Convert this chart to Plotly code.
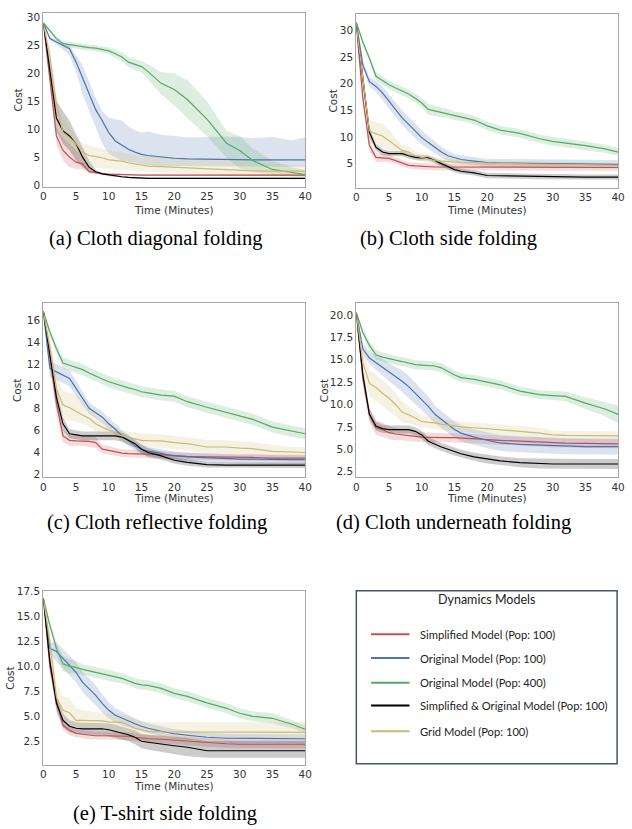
import plotly.graph_objects as go

W, H = 632, 829

T = [0, 1, 2, 3, 4, 5, 6, 7, 8, 9, 10, 11, 12, 13, 14, 15, 16, 18, 20, 22, 25, 28, 30, 32, 35, 38, 40]

NAMES = ["Simplified Model (Pop: 100)", "Original Model (Pop: 100)", "Original Model (Pop: 400)",
         "Simplified & Original Model (Pop: 100)", "Grid Model (Pop: 100)"]
COLORS = ["#C44E52", "#4C72B0", "#55A868", "#000000", "#CCB974"]
CAPTIONS = ["(a) Cloth diagonal folding", "(b) Cloth side folding", "(c) Cloth reflective folding",
            "(d) Cloth underneath folding", "(e) T-shirt side folding"]
X_TICKS = [0, 5, 10, 15, 20, 25, 30, 35, 40]

# ---------------- (a) Cloth diagonal folding ----------------
A_RED = [29, 19, 8.8, 6.2, 5.0, 4.1, 3.8, 2.4, 2.2, 2.05, 1.95, 1.9, 1.85, 1.8, 1.8, 1.8, 1.8, 1.8, 1.8, 1.8, 1.8, 1.8, 1.8, 1.8, 1.8, 1.8, 1.8]
A_RED_LO = [28.8, 17.5, 7.3, 4.4, 3.2, 2.9, 2.8, 2.1, 2.0, 1.9, 1.8, 1.75, 1.7, 1.65, 1.65, 1.65, 1.65, 1.65, 1.65, 1.65, 1.65, 1.65, 1.65, 1.65, 1.65, 1.65, 1.65]
A_RED_HI = [29.2, 20.5, 10.3, 8.5, 7.4, 6.2, 5.3, 2.8, 2.4, 2.2, 2.1, 2.05, 2.0, 1.95, 1.95, 1.95, 1.95, 1.95, 1.95, 1.95, 1.95, 1.95, 1.95, 1.95, 1.95, 1.95, 1.95]
A_BLUE = [29, 26.2, 25.6, 25.0, 24.4, 22.0, 19.1, 16.2, 13.5, 11.5, 9.4, 7.9, 7.1, 6.4, 5.9, 5.5, 5.3, 5.0, 4.8, 4.7, 4.6, 4.55, 4.5, 4.5, 4.5, 4.5, 4.5]
A_BLUE_LO = [28.8, 25.8, 25.2, 24.2, 23.2, 20.3, 16.2, 13.2, 10.3, 7.4, 5.6, 5.0, 4.4, 4.1, 3.9, 3.8, 3.6, 3.4, 3.3, 3.3, 3.3, 3.3, 3.3, 3.3, 3.3, 3.3, 3.3]
A_BLUE_HI = [29.2, 26.6, 26.0, 25.5, 25.0, 23.2, 21.5, 18.5, 15.6, 13.2, 12.1, 11.8, 11.5, 10.5, 9.8, 9.4, 9.6, 9.0, 8.8, 8.5, 8.6, 8.7, 8.6, 8.4, 8.6, 8.0, 8.6]
A_GREEN = [29, 27.5, 26.2, 25.3, 25.1, 24.9, 24.7, 24.6, 24.5, 24.3, 24.0, 23.5, 22.9, 22.0, 21.6, 21.2, 20.3, 18.2, 17.1, 15.3, 11.8, 7.5, 6.2, 4.4, 2.8, 2.2, 1.9]
A_GREEN_LO = [28.8, 27.2, 25.8, 24.8, 24.6, 24.4, 24.2, 24.1, 24.0, 23.8, 23.4, 22.8, 22.1, 21.1, 20.6, 20.2, 19.0, 16.2, 14.3, 12.0, 8.8, 4.9, 3.0, 2.4, 1.8, 1.6, 1.5]
A_GREEN_HI = [29.2, 27.8, 26.6, 25.8, 25.6, 25.4, 25.2, 25.1, 25.0, 24.8, 24.6, 24.2, 23.7, 22.9, 22.6, 22.2, 21.6, 20.2, 20.0, 18.8, 15.0, 9.7, 8.8, 6.5, 4.4, 3.2, 2.6]
A_BLACK = [29, 20.3, 12.0, 9.7, 8.8, 7.4, 5.0, 3.2, 2.4, 2.0, 1.8, 1.65, 1.5, 1.4, 1.3, 1.2, 1.2, 1.2, 1.2, 1.2, 1.2, 1.2, 1.2, 1.2, 1.2, 1.2, 1.2]
A_BLACK_LO = [28.8, 18.5, 9.7, 7.4, 6.2, 4.4, 3.2, 2.4, 2.1, 1.8, 1.6, 1.5, 1.35, 1.25, 1.15, 1.05, 1.05, 1.05, 1.05, 1.05, 1.05, 1.05, 1.05, 1.05, 1.05, 1.05, 1.05]
A_BLACK_HI = [29.2, 22.5, 15.0, 13.2, 11.5, 9.1, 6.8, 4.4, 2.7, 2.2, 2.0, 1.8, 1.65, 1.55, 1.45, 1.35, 1.35, 1.35, 1.35, 1.35, 1.35, 1.35, 1.35, 1.35, 1.35, 1.35, 1.35]
A_GRID = [29, 23, 14.4, 9.4, 8.5, 7.4, 5.9, 5.3, 5.1, 4.9, 4.5, 4.4, 4.3, 4.0, 3.8, 3.5, 3.4, 3.3, 3.2, 3.1, 2.9, 2.7, 2.6, 2.55, 2.5, 2.5, 2.5]
A_GRID_LO = [28.8, 21.5, 12.5, 7.4, 6.2, 5.0, 3.8, 3.2, 3.0, 2.9, 2.9, 2.8, 2.7, 2.6, 2.5, 2.4, 2.3, 2.2, 2.1, 2.0, 1.9, 1.8, 1.7, 1.6, 1.6, 1.5, 1.5]
A_GRID_HI = [29.2, 24.5, 16.5, 11.8, 10.5, 8.5, 7.6, 7.1, 6.8, 6.5, 6.2, 6.0, 5.9, 5.6, 5.4, 5.3, 5.2, 5.1, 5.0, 4.8, 4.6, 4.4, 4.2, 4.0, 3.8, 3.6, 3.5]

# ---------------- (b) Cloth side folding ----------------
B_RED = [31, 17.3, 8.4, 6.2, 6.1, 6.0, 5.6, 5.1, 4.7, 4.6, 4.5, 4.45, 4.4, 4.4, 4.4, 4.4, 4.35, 4.35, 4.3, 4.3, 4.3, 4.3, 4.3, 4.3, 4.3, 4.3, 4.3]
B_RED_LO = [30.8, 15.8, 7.4, 5.4, 5.3, 5.3, 5.0, 4.5, 4.1, 4.0, 3.9, 3.85, 3.8, 3.8, 3.8, 3.8, 3.75, 3.75, 3.7, 3.7, 3.7, 3.7, 3.7, 3.7, 3.7, 3.7, 3.7]
B_RED_HI = [31.2, 18.8, 9.4, 7.0, 6.9, 6.7, 6.2, 5.7, 5.3, 5.2, 5.1, 5.05, 5.0, 5.0, 5.0, 5.0, 4.95, 4.95, 4.9, 4.9, 4.9, 4.9, 4.9, 4.9, 4.9, 4.9, 4.9]
B_BLUE = [31.5, 23.5, 20.4, 19.5, 18.3, 16.7, 15.2, 13.6, 12.4, 11.2, 9.9, 9.0, 8.1, 7.2, 6.5, 6.1, 5.8, 5.5, 5.2, 5.15, 5.1, 5.05, 5.0, 5.0, 4.95, 4.9, 4.9]
B_BLUE_LO = [31.3, 22.8, 19.5, 18.5, 17.1, 15.4, 13.8, 12.2, 11.0, 9.8, 8.6, 7.8, 7.0, 6.2, 5.6, 5.3, 5.0, 4.8, 4.5, 4.4, 4.35, 4.3, 4.25, 4.2, 4.2, 4.1, 4.1]
B_BLUE_HI = [31.7, 24.2, 21.3, 20.5, 19.5, 18.0, 16.6, 15.0, 13.8, 12.6, 11.2, 10.2, 9.2, 8.2, 7.4, 6.9, 6.6, 6.2, 5.9, 5.9, 5.85, 5.8, 5.75, 5.8, 5.7, 5.7, 5.7]
B_GREEN = [31.5, 27.8, 24.8, 21.4, 20.6, 19.8, 19.2, 18.6, 18.1, 17.3, 16.4, 15.2, 14.9, 14.6, 14.4, 14.0, 13.8, 13.2, 12.1, 11.3, 10.7, 9.7, 9.2, 8.9, 8.4, 7.8, 7.2]
B_GREEN_LO = [31.3, 27.3, 24.1, 20.6, 19.8, 19.0, 18.4, 17.8, 17.3, 16.5, 15.5, 14.2, 13.9, 13.7, 13.6, 13.2, 13.0, 12.4, 11.3, 10.5, 9.9, 8.9, 8.4, 8.1, 7.6, 7.0, 6.5]
B_GREEN_HI = [31.7, 28.3, 25.5, 22.2, 21.4, 20.6, 20.0, 19.4, 18.9, 18.1, 17.3, 16.2, 15.9, 15.5, 15.2, 14.8, 14.6, 14.0, 12.9, 12.1, 11.5, 10.5, 10.0, 9.7, 9.2, 8.6, 7.9]
B_BLACK = [31, 21, 10.9, 8.1, 7.2, 6.9, 6.9, 6.9, 6.5, 6.2, 6.1, 6.1, 5.6, 5.0, 4.4, 3.9, 3.6, 3.3, 2.8, 2.75, 2.7, 2.6, 2.5, 2.5, 2.5, 2.5, 2.5]
B_BLACK_LO = [30.8, 19.5, 9.9, 7.5, 6.6, 6.4, 6.4, 6.4, 6.0, 5.7, 5.6, 5.6, 5.1, 4.5, 3.9, 3.4, 3.1, 2.8, 2.3, 2.25, 2.2, 2.1, 2.0, 2.0, 2.0, 2.0, 2.0]
B_BLACK_HI = [31.2, 22.5, 11.9, 8.7, 7.8, 7.4, 7.4, 7.4, 7.0, 6.7, 6.6, 6.6, 6.1, 5.5, 4.9, 4.4, 4.1, 3.8, 3.3, 3.25, 3.2, 3.1, 3.0, 3.0, 3.0, 3.0, 3.0]
B_GRID = [31, 21, 11.2, 10.6, 10.2, 9.3, 8.4, 7.5, 7.2, 6.5, 6.2, 5.9, 5.6, 5.5, 5.4, 5.3, 5.25, 5.2, 5.1, 5.05, 5.0, 4.95, 4.9, 4.85, 4.8, 4.75, 4.7]
B_GRID_LO = [30.8, 19.5, 9.0, 8.4, 8.1, 7.6, 7.0, 6.4, 6.2, 5.7, 5.4, 5.2, 5.0, 4.9, 4.8, 4.8, 4.75, 4.7, 4.6, 4.55, 4.5, 4.45, 4.4, 4.35, 4.3, 4.25, 4.2]
B_GRID_HI = [31.2, 22.5, 13.2, 12.8, 12.5, 11.3, 9.8, 8.6, 8.2, 7.3, 7.0, 6.6, 6.2, 6.1, 6.0, 5.8, 5.75, 5.7, 5.6, 5.55, 5.5, 5.45, 5.4, 5.35, 5.3, 5.25, 5.2]

# ---------------- (c) Cloth reflective folding ----------------
C_RED = [16.75, 12.5, 8.5, 5.5, 5.1, 5.05, 5.05, 5.0, 4.9, 4.3, 4.2, 4.05, 3.95, 3.9, 3.9, 3.9, 3.85, 3.8, 3.7, 3.65, 3.6, 3.6, 3.6, 3.55, 3.5, 3.5, 3.5]
C_RED_LO = [16.65, 11.5, 7.5, 4.9, 4.6, 4.6, 4.6, 4.5, 4.4, 3.9, 3.8, 3.7, 3.6, 3.55, 3.55, 3.55, 3.5, 3.45, 3.4, 3.35, 3.3, 3.3, 3.3, 3.25, 3.2, 3.2, 3.2]
C_RED_HI = [16.85, 13.5, 9.5, 6.1, 5.6, 5.5, 5.5, 5.5, 5.4, 4.7, 4.6, 4.4, 4.3, 4.25, 4.25, 4.25, 4.2, 4.15, 4.0, 3.95, 3.9, 3.9, 3.9, 3.85, 3.8, 3.8, 3.8]
C_BLUE = [16.75, 11.6, 11.3, 11.0, 10.7, 9.8, 8.9, 8.0, 7.6, 7.2, 6.6, 6.1, 5.5, 5.1, 4.6, 4.3, 4.1, 3.9, 3.7, 3.6, 3.5, 3.45, 3.4, 3.4, 3.35, 3.35, 3.35]
C_BLUE_LO = [16.65, 10.8, 10.6, 10.3, 10.0, 9.1, 8.3, 7.5, 7.1, 6.7, 6.1, 5.6, 5.0, 4.6, 4.2, 3.9, 3.7, 3.5, 3.3, 3.2, 3.1, 3.05, 3.0, 3.0, 2.95, 2.95, 2.95]
C_BLUE_HI = [16.85, 12.4, 12.0, 11.7, 11.4, 10.5, 9.5, 8.5, 8.1, 7.7, 7.1, 6.6, 6.0, 5.6, 5.0, 4.7, 4.5, 4.3, 4.1, 4.0, 3.9, 3.85, 3.8, 3.8, 3.75, 3.75, 3.75]
C_GREEN = [16.75, 14.9, 13.4, 12.1, 11.9, 11.7, 11.5, 11.2, 10.9, 10.65, 10.4, 10.2, 10.0, 9.85, 9.7, 9.5, 9.4, 9.2, 9.1, 8.6, 8.1, 7.6, 7.3, 7.0, 6.3, 5.9, 5.7]
C_GREEN_LO = [16.65, 14.6, 13.0, 11.6, 11.4, 11.2, 11.0, 10.7, 10.4, 10.15, 9.9, 9.7, 9.5, 9.35, 9.2, 9.0, 8.9, 8.7, 8.6, 8.1, 7.6, 7.1, 6.8, 6.5, 5.8, 5.4, 5.2]
C_GREEN_HI = [16.85, 15.2, 13.8, 12.6, 12.4, 12.2, 12.0, 11.7, 11.4, 11.15, 10.9, 10.7, 10.5, 10.35, 10.2, 10.0, 9.9, 9.7, 9.6, 9.1, 8.6, 8.1, 7.8, 7.5, 6.8, 6.4, 6.2]
C_BLACK = [16.75, 13.0, 9.0, 6.6, 5.7, 5.6, 5.5, 5.5, 5.5, 5.5, 5.5, 5.5, 5.4, 5.1, 4.8, 4.3, 4.0, 3.7, 3.3, 3.1, 2.9, 2.85, 2.85, 2.85, 2.85, 2.85, 2.85]
C_BLACK_LO = [16.65, 12.0, 8.0, 6.0, 5.3, 5.2, 5.1, 5.1, 5.1, 5.1, 5.1, 5.1, 5.0, 4.7, 4.4, 3.9, 3.6, 3.35, 3.0, 2.8, 2.65, 2.6, 2.6, 2.6, 2.6, 2.6, 2.6]
C_BLACK_HI = [16.85, 14.0, 10.0, 7.2, 6.1, 6.0, 5.9, 5.9, 5.9, 5.9, 5.9, 5.9, 5.8, 5.5, 5.2, 4.7, 4.4, 4.05, 3.6, 3.4, 3.15, 3.1, 3.1, 3.1, 3.1, 3.1, 3.1]
C_GRID = [16.75, 13.5, 9.8, 8.3, 8.05, 7.7, 7.4, 7.1, 6.6, 6.3, 6.0, 5.75, 5.5, 5.35, 5.2, 5.1, 5.07, 5.05, 4.9, 4.8, 4.5, 4.5, 4.4, 4.35, 4.1, 4.0, 4.0]
C_GRID_LO = [16.65, 12.5, 8.3, 6.9, 6.9, 6.8, 6.6, 6.3, 5.9, 5.7, 5.4, 5.2, 5.0, 4.8, 4.6, 4.5, 4.45, 4.4, 4.3, 4.2, 3.9, 3.9, 3.8, 3.75, 3.6, 3.6, 3.6]
C_GRID_HI = [16.85, 14.5, 11.0, 9.5, 9.4, 9.3, 8.5, 7.9, 7.3, 6.9, 6.6, 6.3, 6.0, 5.9, 5.8, 5.7, 5.7, 5.65, 5.5, 5.4, 5.1, 5.1, 5.0, 4.95, 4.7, 4.5, 4.5]

# ---------------- (d) Cloth underneath folding ----------------
D_RED = [20.25, 12.9, 8.9, 7.4, 7.2, 6.85, 6.7, 6.6, 6.5, 6.4, 6.35, 6.33, 6.3, 6.3, 6.3, 6.3, 6.25, 6.2, 6.1, 6.0, 5.9, 5.8, 5.7, 5.68, 5.65, 5.6, 5.6]
D_RED_LO = [20.15, 12.0, 8.0, 6.6, 6.4, 6.1, 6.0, 6.0, 5.9, 5.85, 5.8, 5.8, 5.8, 5.8, 5.8, 5.8, 5.75, 5.7, 5.6, 5.5, 5.4, 5.3, 5.2, 5.2, 5.15, 5.1, 5.1]
D_RED_HI = [20.35, 13.8, 9.8, 8.2, 8.0, 7.6, 7.4, 7.2, 7.1, 6.95, 6.9, 6.85, 6.8, 6.8, 6.8, 6.8, 6.75, 6.7, 6.6, 6.5, 6.4, 6.3, 6.2, 6.15, 6.15, 6.1, 6.1]
D_BLUE = [20.25, 16.2, 15.2, 14.7, 14.2, 13.6, 13.1, 12.6, 12.0, 11.25, 10.5, 9.8, 8.9, 8.3, 7.75, 7.2, 6.8, 6.35, 6.0, 5.7, 5.55, 5.45, 5.4, 5.35, 5.3, 5.3, 5.3]
D_BLUE_LO = [20.15, 15.6, 14.5, 13.9, 13.3, 12.6, 12.0, 11.4, 10.8, 10.1, 9.4, 8.7, 7.9, 7.3, 6.8, 6.3, 5.9, 5.5, 5.1, 4.8, 4.65, 4.55, 4.5, 4.45, 4.4, 4.4, 4.4]
D_BLUE_HI = [20.35, 16.8, 15.9, 15.5, 15.1, 14.6, 14.2, 13.8, 13.2, 12.4, 11.6, 10.9, 9.9, 9.3, 8.7, 8.1, 7.7, 7.2, 6.9, 6.6, 6.45, 6.35, 6.3, 6.25, 6.2, 6.2, 6.2]
D_GREEN = [20.25, 18.05, 16.6, 15.55, 15.3, 15.1, 14.95, 14.8, 14.6, 14.45, 14.4, 14.35, 14.3, 14.1, 13.7, 13.3, 13.0, 12.8, 12.5, 12.2, 11.5, 11.1, 11.0, 10.9, 10.15, 9.5, 8.9]
D_GREEN_LO = [20.15, 17.7, 16.1, 15.0, 14.8, 14.6, 14.45, 14.3, 14.1, 13.95, 13.9, 13.85, 13.8, 13.6, 13.2, 12.8, 12.5, 12.3, 12.0, 11.7, 11.0, 10.6, 10.5, 10.35, 9.5, 8.7, 7.9]
D_GREEN_HI = [20.35, 18.4, 17.1, 16.1, 15.8, 15.6, 15.45, 15.3, 15.1, 14.95, 14.9, 14.85, 14.8, 14.6, 14.2, 13.8, 13.5, 13.3, 13.0, 12.7, 12.0, 11.6, 11.5, 11.45, 10.8, 10.3, 9.9]
D_BLACK = [20.25, 13.3, 8.9, 7.6, 7.3, 7.2, 7.2, 7.2, 7.2, 7.0, 6.6, 5.9, 5.55, 5.25, 5.0, 4.75, 4.5, 4.15, 3.9, 3.7, 3.5, 3.4, 3.35, 3.35, 3.35, 3.35, 3.35]
D_BLACK_LO = [20.15, 12.5, 8.3, 7.1, 6.85, 6.75, 6.75, 6.75, 6.75, 6.55, 6.15, 5.45, 5.1, 4.8, 4.55, 4.3, 4.05, 3.7, 3.4, 3.2, 3.0, 2.85, 2.8, 2.8, 2.8, 2.8, 2.8]
D_BLACK_HI = [20.35, 14.1, 9.5, 8.1, 7.75, 7.65, 7.65, 7.65, 7.65, 7.45, 7.05, 6.35, 6.0, 5.7, 5.45, 5.2, 4.95, 4.6, 4.4, 4.2, 4.0, 3.95, 3.9, 3.9, 3.9, 3.9, 3.9]
D_GRID = [20.25, 14.7, 12.35, 11.9, 11.25, 10.7, 10.0, 9.15, 8.85, 8.5, 8.1, 8.0, 7.95, 7.8, 7.7, 7.6, 7.5, 7.4, 7.3, 7.2, 7.0, 6.8, 6.6, 6.55, 6.5, 6.5, 6.5]
D_GRID_LO = [20.15, 13.5, 10.9, 10.4, 9.8, 9.3, 8.7, 8.0, 7.9, 7.7, 7.4, 7.35, 7.3, 7.2, 7.1, 7.0, 6.9, 6.8, 6.7, 6.6, 6.4, 6.2, 6.1, 6.05, 6.0, 6.0, 6.0]
D_GRID_HI = [20.35, 15.9, 13.8, 13.4, 12.7, 12.1, 11.3, 10.3, 9.8, 9.3, 8.8, 8.65, 8.6, 8.4, 8.3, 8.2, 8.1, 8.0, 7.9, 7.8, 7.6, 7.4, 7.1, 7.05, 7.0, 7.0, 7.0]

# ---------------- (e) T-shirt side folding ----------------
E_RED = [16.8, 10.0, 6.6, 4.1, 3.6, 3.3, 3.2, 3.1, 3.05, 3.05, 3.05, 3.05, 3.05, 3.0, 2.9, 2.8, 2.75, 2.7, 2.6, 2.5, 2.35, 2.25, 2.2, 2.2, 2.2, 2.2, 2.2]
E_RED_LO = [16.7, 9.2, 5.8, 3.6, 3.1, 2.9, 2.8, 2.7, 2.65, 2.65, 2.65, 2.65, 2.65, 2.6, 2.5, 2.4, 2.35, 2.3, 2.2, 2.1, 1.95, 1.85, 1.8, 1.8, 1.8, 1.8, 1.8]
E_RED_HI = [16.9, 10.8, 7.4, 4.6, 4.1, 3.7, 3.6, 3.5, 3.45, 3.45, 3.45, 3.45, 3.45, 3.4, 3.3, 3.2, 3.15, 3.1, 3.0, 2.9, 2.75, 2.65, 2.6, 2.6, 2.6, 2.6, 2.6]
E_BLUE = [16.8, 11.8, 11.5, 10.85, 10.1, 9.4, 8.4, 7.75, 7.1, 6.3, 5.6, 5.1, 4.8, 4.5, 4.25, 4.0, 3.8, 3.5, 3.25, 3.1, 2.9, 2.8, 2.8, 2.78, 2.75, 2.75, 2.75]
E_BLUE_LO = [16.7, 11.2, 10.6, 9.9, 9.1, 8.4, 7.4, 6.7, 6.1, 5.4, 4.8, 4.4, 4.1, 3.9, 3.7, 3.5, 3.3, 3.0, 2.8, 2.65, 2.45, 2.35, 2.35, 2.35, 2.35, 2.35, 2.35]
E_BLUE_HI = [16.9, 12.4, 12.4, 11.8, 11.1, 10.4, 9.4, 8.8, 8.1, 7.2, 6.4, 5.8, 5.5, 5.1, 4.8, 4.5, 4.3, 4.0, 3.7, 3.55, 3.35, 3.25, 3.25, 3.2, 3.2, 3.2, 3.2]
E_GREEN = [16.8, 14.1, 11.8, 10.25, 10.0, 9.9, 9.7, 9.55, 9.4, 9.2, 9.05, 8.9, 8.8, 8.55, 8.3, 8.15, 8.1, 7.8, 7.3, 7.0, 6.35, 5.8, 5.3, 5.0, 4.8, 4.2, 3.7]
E_GREEN_LO = [16.7, 13.7, 11.2, 9.5, 9.3, 9.3, 9.2, 9.05, 8.9, 8.7, 8.55, 8.4, 8.3, 8.05, 7.8, 7.65, 7.6, 7.3, 6.8, 6.5, 5.85, 5.3, 4.8, 4.5, 4.3, 3.8, 3.3]
E_GREEN_HI = [16.9, 14.5, 12.4, 11.0, 10.7, 10.5, 10.2, 10.05, 9.9, 9.7, 9.55, 9.4, 9.3, 9.05, 8.8, 8.65, 8.6, 8.3, 7.8, 7.5, 6.85, 6.3, 5.8, 5.5, 5.3, 4.6, 4.1]
E_BLACK = [16.8, 10.5, 6.3, 4.6, 4.0, 3.8, 3.75, 3.75, 3.75, 3.75, 3.65, 3.5, 3.3, 3.15, 2.9, 2.5, 2.4, 2.2, 2.05, 1.9, 1.55, 1.55, 1.55, 1.55, 1.55, 1.55, 1.55]
E_BLACK_LO = [16.7, 9.7, 5.5, 3.9, 3.4, 3.2, 3.15, 3.15, 3.15, 3.15, 3.0, 2.85, 2.65, 2.5, 2.2, 1.8, 1.65, 1.4, 1.2, 1.0, 0.85, 0.85, 0.85, 0.85, 0.85, 0.85, 0.85]
E_BLACK_HI = [16.9, 11.3, 7.1, 5.3, 4.6, 4.4, 4.35, 4.35, 4.35, 4.35, 4.3, 4.15, 3.95, 3.8, 3.6, 3.2, 3.15, 3.0, 2.9, 2.8, 2.5, 2.5, 2.5, 2.5, 2.5, 2.5, 2.5]
E_GRID = [16.8, 12.5, 6.9, 5.6, 5.35, 4.6, 4.6, 4.6, 4.6, 4.55, 4.45, 4.42, 4.4, 4.1, 3.8, 3.65, 3.5, 3.45, 3.45, 3.45, 3.45, 3.42, 3.4, 3.4, 3.4, 3.4, 3.4]
E_GRID_LO = [16.7, 11.5, 5.5, 4.5, 4.3, 3.7, 3.7, 3.7, 3.7, 3.65, 3.55, 3.5, 3.45, 3.15, 2.9, 2.75, 2.6, 2.55, 2.55, 2.55, 2.55, 2.55, 2.55, 2.55, 2.55, 2.55, 2.55]
E_GRID_HI = [16.9, 13.5, 8.3, 7.0, 6.8, 5.8, 5.6, 5.5, 5.4, 5.35, 5.25, 5.2, 5.2, 5.0, 4.7, 4.5, 4.4, 4.4, 4.4, 4.4, 4.4, 4.4, 4.4, 4.4, 4.4, 4.4, 4.4]

PANEL_DATA = [
    [(A_RED, A_RED_LO, A_RED_HI), (A_BLUE, A_BLUE_LO, A_BLUE_HI), (A_GREEN, A_GREEN_LO, A_GREEN_HI),
     (A_BLACK, A_BLACK_LO, A_BLACK_HI), (A_GRID, A_GRID_LO, A_GRID_HI)],
    [(B_RED, B_RED_LO, B_RED_HI), (B_BLUE, B_BLUE_LO, B_BLUE_HI), (B_GREEN, B_GREEN_LO, B_GREEN_HI),
     (B_BLACK, B_BLACK_LO, B_BLACK_HI), (B_GRID, B_GRID_LO, B_GRID_HI)],
    [(C_RED, C_RED_LO, C_RED_HI), (C_BLUE, C_BLUE_LO, C_BLUE_HI), (C_GREEN, C_GREEN_LO, C_GREEN_HI),
     (C_BLACK, C_BLACK_LO, C_BLACK_HI), (C_GRID, C_GRID_LO, C_GRID_HI)],
    [(D_RED, D_RED_LO, D_RED_HI), (D_BLUE, D_BLUE_LO, D_BLUE_HI), (D_GREEN, D_GREEN_LO, D_GREEN_HI),
     (D_BLACK, D_BLACK_LO, D_BLACK_HI), (D_GRID, D_GRID_LO, D_GRID_HI)],
    [(E_RED, E_RED_LO, E_RED_HI), (E_BLUE, E_BLUE_LO, E_BLUE_HI), (E_GREEN, E_GREEN_LO, E_GREEN_HI),
     (E_BLACK, E_BLACK_LO, E_BLACK_HI), (E_GRID, E_GRID_LO, E_GRID_HI)],
]

# layout geometry (pixels) -----------------------------------------------
PANEL_BOX = [(41, 307, 7, 183), (359, 625, 8, 184), (41, 307, 301, 477), (359, 625, 301, 477), (41, 307, 592, 768)]
Y_RANGES = [(-0.3, 30.8), (0.5, 33.1), (1.76, 17.5), (1.87, 21.3), (0.15, 17.56)]
Y_TICK0 = [0, 5, 2, 2.5, 2.5]
Y_DTICK = [5, 5, 2, 2.5, 2.5]
Y_FMT = ["d", "d", "d", ".1f", ".1f"]
COST_X = [15, 335, 15, 326, 7]
TIME_Y = [206, 206, 498, 498, 790]
CAPTION_POS = [(155, 235), (453, 235), (156, 523), (458, 523), (165, 817)]
LEGEND_BOX = (359, 624, 592, 767)
LEGEND_ROWS = [636, 660, 685, 708, 734]


def px(x):
    return x / W


def py(y):
    return 1 - y / H


def rgba(hex_color, a):
    h = hex_color.lstrip("#")
    r, g, b = int(h[0:2], 16), int(h[2:4], 16), int(h[4:6], 16)
    return f"rgba({r},{g},{b},{a})"


fig = go.Figure()
TICK_FONT = dict(family="DejaVu Sans", size=10.5, color="#333333")
LABEL_FONT = dict(family="DejaVu Sans", size=10.5, color="#333333")
annotations = []
shapes = []

for p, series in enumerate(PANEL_DATA):
    suffix = "" if p == 0 else str(p + 1)
    xa, ya = "x" + suffix, "y" + suffix
    for s, (mean, lo, hi) in enumerate(series):
        fig.add_trace(go.Scatter(
            x=T + T[::-1], y=hi + lo[::-1], xaxis=xa, yaxis=ya,
            fill="toself", fillcolor=rgba(COLORS[s], 0.2), line=dict(width=0),
            mode="lines", hoverinfo="skip", showlegend=False))
    for s, (mean, lo, hi) in enumerate(series):
        fig.add_trace(go.Scatter(
            x=T, y=mean, xaxis=xa, yaxis=ya, mode="lines",
            line=dict(color=COLORS[s], width=1.2), name=NAMES[s], showlegend=False))

    x0, x1, y0, y1 = PANEL_BOX[p]
    axis_common = dict(showline=True, linecolor="#a6a6a6", linewidth=1.2, mirror=True,
                       showgrid=False, zeroline=False, ticks="", tickfont=TICK_FONT)
    fig.layout["xaxis" + suffix] = dict(
        domain=[px(x0), px(x1)], anchor=ya, range=[0, 40], tickmode="array",
        tickvals=X_TICKS, **axis_common)
    fig.layout["yaxis" + suffix] = dict(
        domain=[py(y1), py(y0)], anchor=xa, range=list(Y_RANGES[p]), tick0=Y_TICK0[p],
        dtick=Y_DTICK[p], tickformat=Y_FMT[p], **axis_common)

    annotations.append(dict(text="Cost", x=px(COST_X[p]), y=py((y0 + y1) / 2), xref="paper", yref="paper",
                            textangle=-90, showarrow=False, font=LABEL_FONT,
                            xanchor="center", yanchor="middle"))
    annotations.append(dict(text="Time (Minutes)", x=px((x0 + x1) / 2), y=py(TIME_Y[p]), xref="paper", yref="paper",
                            showarrow=False, font=LABEL_FONT, xanchor="center", yanchor="middle"))
    cx, cy = CAPTION_POS[p]
    annotations.append(dict(text=CAPTIONS[p], x=px(cx), y=py(cy), xref="paper", yref="paper",
                            showarrow=False, font=dict(family="Liberation Serif", size=20.5, color="#000000"),
                            xanchor="center", yanchor="middle"))

# legend panel
lx0, lx1, ly0, ly1 = LEGEND_BOX
shapes.append(dict(type="rect", xref="paper", yref="paper", x0=px(lx0), x1=px(lx1), y0=py(ly1), y1=py(ly0),
                   line=dict(color="#44546A", width=1.5), fillcolor="rgba(0,0,0,0)"))
annotations.append(dict(text="Dynamics Models", x=px((lx0 + lx1) / 2), y=py(601), xref="paper", yref="paper",
                        showarrow=False, font=dict(family="Lato", size=12.5, color="#222222"),
                        xanchor="center", yanchor="middle"))
for s, name in enumerate(NAMES):
    yy = LEGEND_ROWS[s]
    shapes.append(dict(type="line", xref="paper", yref="paper", x0=px(374), x1=px(413), y0=py(yy), y1=py(yy),
                       line=dict(color=COLORS[s], width=2)))
    annotations.append(dict(text=name, x=px(422), y=py(yy), xref="paper", yref="paper", showarrow=False,
                            font=dict(family="Lato", size=11.2, color="#222222"),
                            xanchor="left", yanchor="middle"))

fig.update_layout(width=W, height=H, margin=dict(l=0, r=0, t=0, b=0), paper_bgcolor="white",
                  plot_bgcolor="white", annotations=annotations, shapes=shapes, showlegend=False)

fig.write_html("out.html", config={"displayModeBar": False},
               post_script="document.body.style.margin='0px';document.body.style.overflow='hidden';")
